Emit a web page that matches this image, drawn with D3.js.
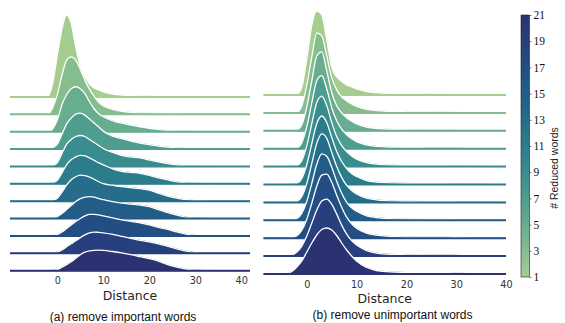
<!DOCTYPE html>
<html>
<head>
<meta charset="utf-8">
<script src="https://cdn.jsdelivr.net/npm/d3@7/dist/d3.min.js"></script>
<style>
  body { margin: 0; background: #fff; }
  svg { display: block; }
</style>
</head>
<body>
<script>
// number of reduced words, one ridge per value (top -> bottom)
var reduced = [1, 3, 5, 7, 9, 11, 13, 15, 17, 19, 21]

// x grid (distance) the densities were read at
var gridA = [-10.3, -3, -2, -1, 0, 1, 2, 3, 4, 5, 6, 7, 8, 9, 10, 12, 14, 16, 18, 20, 22, 24, 26, 28, 30, 32, 35, 41.9]
var gridB = [-8.7, -4, -3, -2, -1, 0, 1, 2, 3, 4, 5, 6, 7, 8, 9, 10, 12, 14, 16, 18, 20, 22, 24, 26, 28, 30, 32, 35, 40]

// (a) remove important words -- relative density per ridge
var densA = [
  [0,0,1,14,42,68,82,74,50,30,20,13,9,7,5,3,2,1.3,1,0.7,0.5,0.4,0.3,0.2,0.2,0.1,0,0],
  [0,0,0.5,7,20,39,54,57.5,54,45,34,25,18,12,8.5,5,3,2,1.5,1.2,1,0.8,0.6,0.4,0.3,0.2,0.1,0],
  [0,0,0,3,12,27,37,43,45,43,38,30,23,18,15,11,8.5,6.7,5,3.5,2.3,1.3,0.8,0.4,0.2,0.1,0,0],
  [0,0,0,1.5,5,15,25,31,35,36,34,30,26,22,18,13,10.5,8,6,4.5,3,2,1.3,0.6,0.3,0.1,0,0],
  [0,0,0,1,4,13,22,27,30,31,30,27,24,21,18,14,11,9.5,8.5,6.5,4.5,2.8,1.5,0.7,0.3,0.1,0,0],
  [0,0,0,1,3.5,11,19,24,27,28.5,28,26,23.5,21,19,15,12.5,11.5,10.5,8.5,6,4,2,1,0.4,0.1,0,0],
  [0,0,0,1,3,9,16,21.5,24.5,26,25.5,24,22,19.5,17.5,16,14.5,13.5,12.5,11,8,5,3,1.5,0.7,0.2,0,0],
  [0,0,0,0.5,2,5,9,13,17,20,21.5,22,21.5,20,19,17,15.5,14.5,13.5,12,9,6,3.5,1.5,0.5,0.1,0,0],
  [0,0,0,0.4,1.5,4,7.5,11,14.5,17.5,20,21.5,21.5,21,20,18,16,14.5,13,11,8.5,6.5,4,1.8,0.6,0.2,0,0],
  [0,0,0,0.5,1.5,3.5,6.5,9.5,12.5,15.7,18.5,20.5,21.3,21,20.5,19,17,15,13,11.5,9.5,7,4.5,2.3,0.8,0.2,0,0],
  [0,0,0,0.3,1,3.5,6,9,12.5,16,18.5,19.8,20.4,20.5,20.3,19.2,17.8,16,14,12,9.5,6,3.5,1.7,0.6,0.2,0,0]
]

// (b) remove unimportant words
var densB = [
  [0,0,0,0.5,8,36,70,84,80,55,28,18,13.5,10,8,6,3.5,2.3,1.6,1.3,1.1,1,0.9,0.8,0.7,0.5,0.3,0.1,0],
  [0,0,0,0.6,7,28,56,80,77,57,35,23,16,12,9,6.5,3.6,2.3,1.6,1.3,1.1,1,0.9,0.8,0.8,0.5,0.3,0.1,0],
  [0,0,0,0.7,6,24,50,75,79,60,38,25,18,13,9.5,7,3.8,2.3,1.6,1.3,1.1,1,0.9,0.9,0.9,0.5,0.2,0.1,0],
  [0,0,0,0.8,6,22,46,68,73,60,41,28,19.5,14,10,7,3.8,2.3,1.6,1.3,1.1,1,0.9,0.9,0.9,0.5,0.2,0.1,0],
  [0,0,0,1,6,21,43,64,70.5,61,44,30,21,15,10.5,7.5,4,2.4,1.7,1.3,1.1,1,0.9,0.9,0.9,0.5,0.2,0.1,0],
  [0,0,0,1,6,20,41,61,68.5,62,47,33,23,16,11,8,4,2.5,1.8,1.4,1.1,1,0.9,0.9,0.9,0.5,0.2,0.1,0],
  [0,0,0,1,6,19,39,59,68.5,64,50,36,25,17,12,8.5,4.3,2.6,1.8,1.4,1.1,1,0.9,0.9,0.9,0.5,0.2,0.1,0],
  [0,0,0,1.5,7,19,37,56,66.5,64,53,39,27,18,12.5,9,4.5,2.7,1.8,1.4,1.1,1,0.9,0.9,0.9,0.5,0.2,0.1,0],
  [0,0,0.5,2.5,8,19,35,52,63,64,56,43,31,21,14.5,10,5,3,2,1.5,1.2,1,1,1,1,0.6,0.2,0.1,0],
  [0,0,1,4,10,20,33,46,55,57,52,42,31,22,15.5,11,5.5,3,2,1.6,1.3,1.2,1.2,1.3,1.3,0.8,0.3,0.1,0],
  [0,0.5,2.5,7,13,22,31,39,44.5,46,44,38.5,31,24,18,13,6.5,3.5,2.3,1.8,1.5,1.3,1.3,1.5,1.5,1,0.4,0.1,0]
]

var xTicks  = [0, 10, 20, 30, 40]
var cbTicks = [1, 3, 5, 7, 9, 11, 13, 15, 17, 19, 21]
var captions = ["(a) remove important words", "(b) remove unimportant words"]

var W = 565, H = 323

var svg = d3.select("body").append("svg")
    .attr("xmlns", "http://www.w3.org/2000/svg")
    .attr("width", W)
    .attr("height", H)

// seaborn "crest" like colormap
var crest = d3.interpolateRgbBasis(["#a5cd90", "#78b68e", "#4f9f8e", "#33888e", "#25718b", "#205b88", "#254582", "#2c3172"])
var color = d3.scaleSequential(crest).domain([1, 21])

function panel(grid, dens, cfg) {
    var x = d3.scaleLinear().domain(cfg.xDomain).range(cfg.xRange)
    var row = d3.scaleLinear().domain([0, reduced.length - 1]).range(cfg.rows)
    var y = d3.scaleLinear().domain([0, 100]).range([0, -100])

    var area = d3.area()
        .x(function(d, i) { return x(grid[i]) })
        .y0(0)
        .y1(function(d) { return y(d) })
        .curve(d3.curveMonotoneX)
    var line = d3.line()
        .x(function(d, i) { return x(grid[i]) })
        .y(function(d) { return y(d) })
        .curve(d3.curveMonotoneX)

    var g = svg.append("g")

    // one ridge per row, lower rows painted over the upper ones
    var ridge = g.selectAll(".ridge")
        .data(dens)
        .enter().append("g")
        .attr("transform", function(d, i) { return "translate(0," + row(i) + ")" })

    ridge.append("path")
        .attr("d", area)
        .style("fill", function(d, i) { return color(reduced[i]) })
        .style("stroke", function(d, i) { return color(reduced[i]) })
        .style("stroke-width", 0.8)

    ridge.append("path")
        .attr("d", line)
        .style("fill", "none")
        .style("stroke", "#fff")
        .style("stroke-width", 1.3)

    ridge.append("line")
        .attr("x1", cfg.xRange[0]).attr("x2", cfg.xRange[1])
        .attr("y1", 0).attr("y2", 0)
        .style("stroke", function(d, i) { return color(reduced[i]) })
        .style("stroke-width", 2)

    // x axis, no domain line or tick marks
    var ax = g.append("g")
        .attr("transform", "translate(0," + cfg.axisY + ")")
        .call(d3.axisBottom(x).tickValues(xTicks).tickSize(0).tickPadding(0))
    ax.select(".domain").remove()
    ax.selectAll("text")
        .style("font-family", "'DejaVu Sans'")
        .style("font-size", "9.7px")
        .attr("fill", "#333")

    g.append("text")
        .attr("x", (cfg.xRange[0] + cfg.xRange[1]) / 2)
        .attr("y", cfg.titleY)
        .attr("text-anchor", "middle")
        .style("font-family", "'DejaVu Sans'")
        .style("font-size", "12.5px")
        .attr("fill", "#262626")
        .text("Distance")

    g.append("text")
        .attr("x", cfg.capX)
        .attr("y", cfg.capY)
        .attr("text-anchor", "middle")
        .style("font-family", "'Liberation Sans', Arial, sans-serif")
        .style("font-size", "12px")
        .attr("fill", "#111")
        .text(cfg.caption)
}

panel(gridA, densA, {
    xDomain: [-10.3, 41.9], xRange: [10, 250],
    rows: [97, 270.7],
    axisY: 277, titleY: 299.5,
    capX: 123, capY: 320.5, caption: captions[0]
})

panel(gridB, densB, {
    xDomain: [-8.7, 40], xRange: [263.5, 506],
    rows: [95, 274],
    axisY: 281, titleY: 302.5,
    capX: 392.5, capY: 318.5, caption: captions[1]
})

// colorbar ===========================================================
var cb = d3.scaleLinear().domain([1, 21]).range([277, 15])

var grad = svg.append("defs").append("linearGradient")
    .attr("id", "cbgrad")
    .attr("x1", 0).attr("y1", 1).attr("x2", 0).attr("y2", 0)
grad.selectAll("stop")
    .data(d3.range(0, 1.0001, 0.05))
    .enter().append("stop")
    .attr("offset", function(d) { return d })
    .attr("stop-color", function(d) { return crest(d) })

svg.append("rect")
    .attr("x", 521).attr("y", cb(21))
    .attr("width", 8.5).attr("height", cb(1) - cb(21))
    .style("fill", "url(#cbgrad)")
    .style("stroke", "#222")
    .style("stroke-width", 0.6)

var cax = svg.append("g")
    .attr("transform", "translate(529.5,0)")
    .call(d3.axisRight(cb).tickValues(cbTicks).tickSize(2).tickPadding(2))
cax.select(".domain").remove()
cax.selectAll("line").style("stroke", "#222").style("stroke-width", 0.6)
cax.selectAll("text")
    .style("font-family", "'Liberation Serif', 'Times New Roman', serif")
    .style("font-size", "11.5px")
    .attr("fill", "#111")

svg.append("text")
    .attr("transform", "translate(558,168) rotate(-90)")
    .attr("text-anchor", "middle")
    .style("font-family", "'Liberation Sans', Arial, sans-serif")
    .style("font-size", "10.5px")
    .attr("fill", "#222")
    .text("# Reduced words")
</script>
</body>
</html>
